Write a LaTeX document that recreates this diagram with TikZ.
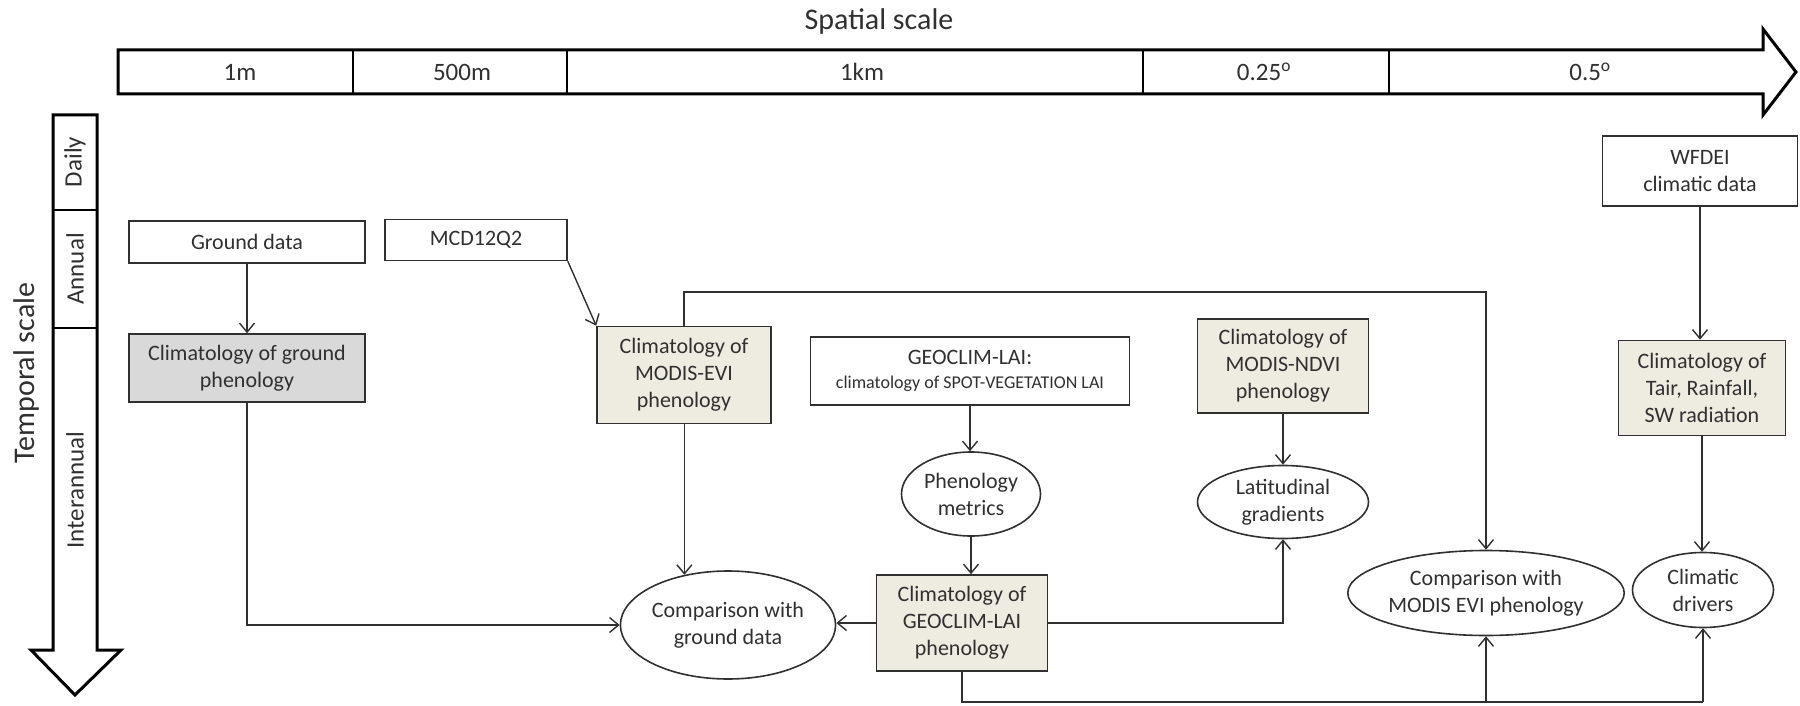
\documentclass[tikz,border=0pt]{standalone}
\usepackage{fontspec}
\setmainfont{Carlito}
\usetikzlibrary{arrows.meta,shapes.geometric}
\definecolor{beige}{HTML}{EEECE1}
\definecolor{greyfill}{HTML}{D9D9D9}
\definecolor{ink}{HTML}{303030}

\tikzset{
  txt/.style={font=\fontsize{22}{27}\selectfont, text=ink, align=center},
  databox/.style={txt, draw=ink, line width=1.6pt, fill=white, rectangle, inner sep=0pt},
  climbox/.style={databox, fill=beige},
  groundbox/.style={databox, fill=greyfill},
  result/.style={txt, draw=ink, line width=1.6pt, fill=white, ellipse, inner sep=0pt},
  conn/.style={draw=ink, line width=1.4pt},
  arr/.style={conn, -{Straight Barb[length=9pt,width=15pt,line width=1.4pt]}},
  scalebar/.style={draw=black, line width=3pt, line join=miter, fill=white},
  scalelab/.style={font=\fontsize{25}{30}\selectfont, text=ink, inner sep=0pt},
  axistitle/.style={font=\fontsize{30}{36}\selectfont, text=ink, inner sep=0pt},
}

\begin{document}
\begin{tikzpicture}[x=1pt,y=-1pt]
\useasboundingbox (0,0) rectangle (1800,706);

% ---- spatial scale arrow ----
\node[axistitle] (spatial) at (879,22) {Spatial scale};
\draw[scalebar] (118,50) -- (1763,50) -- (1763,29) -- (1796,72) -- (1763,115)
  -- (1763,94) -- (118,94) -- cycle;
\foreach \xd in {353,567,1143,1389}
  \draw[black, line width=1.6pt] (\xd,50) -- (\xd,94);
\node[scalelab] (s1) at (240,72) {1m};
\node[scalelab] (s2) at (462,72) {500m};
\node[scalelab] (s3) at (862,72) {1km};
\node[scalelab] (s4) at (1264,72) {0.25\textsuperscript{o}};
\node[scalelab] (s5) at (1590,72) {0.5\textsuperscript{o}};

% ---- temporal scale arrow ----
\node[axistitle, rotate=90] (temporal) at (27,373) {Temporal scale};
\draw[scalebar] (53,115) -- (97,115) -- (97,650) -- (121,650) -- (75,695)
  -- (31,650) -- (53,650) -- cycle;
\foreach \yd in {210,328}
  \draw[black, line width=1.6pt] (53,\yd) -- (97,\yd);
\node[scalelab, rotate=90] (t1) at (75,162) {Daily};
\node[scalelab, rotate=90] (t2) at (75,269) {Annual};
\node[scalelab, rotate=90] (t3) at (75,490) {Interannual};

% ---- input data ----
\node[databox, minimum width=236pt, minimum height=42pt] (ground) at (247,242) {Ground data};
\node[databox, minimum width=182pt, minimum height=41pt] (mcd) at (476,240) {MCD12Q2};
\node[databox, minimum width=195pt, minimum height=70pt] (wfdei) at (1700,171) {WFDEI\\climatic data};
\node[databox, minimum width=319pt, minimum height=68pt] (geoclim) at (970,371)
  {GEOCLIM-LAI:\\[-3pt]{\fontsize{18}{22}\selectfont climatology of SPOT-VEGETATION LAI}};

% ---- climatologies ----
\node[groundbox, minimum width=236pt, minimum height=68pt] (climground) at (247,368)
  {Climatology of ground\\phenology};
\node[climbox, minimum width=174pt, minimum height=97pt] (modisevi) at (684,375)
  {Climatology of\\MODIS-EVI\\phenology};
\node[climbox, minimum width=171pt, minimum height=94pt] (ndvi) at (1283,366)
  {Climatology of\\MODIS-NDVI\\phenology};
\node[climbox, minimum width=167pt, minimum height=95pt] (tair) at (1702,388)
  {Climatology of\\Tair, Rainfall,\\SW radiation};
\node[climbox, minimum width=171pt, minimum height=96pt] (geoclimphen) at (962,623)
  {Climatology of\\GEOCLIM-LAI\\phenology};

% ---- analyses ----
\node[result, minimum width=139pt, minimum height=84pt] (metrics) at (971,494) {Phenology\\metrics};
\node[result, minimum width=171pt, minimum height=73pt] (latgrad) at (1283,502) {Latitudinal\\gradients};
\node[result, minimum width=182pt, minimum height=108pt] (compground) at (728,625) {Comparison with\\ground data};
\node[result, minimum width=237pt, minimum height=85pt] (compmodis) at (1486,593) {Comparison with\\MODIS EVI phenology};
\node[result, minimum width=141pt, minimum height=75pt] (drivers) at (1703,590) {Climatic\\drivers};

% ---- connectors ----
\coordinate (looptop) at (0,292);
\coordinate (busy) at (0,702);

\draw[arr] (ground) -- (climground);
\draw[arr] (mcd.south east) -- (modisevi.north west);
\draw[arr] (modisevi.north) -- (modisevi.north |- looptop) -| (compmodis.north);
\draw[arr] (compground.131 |- modisevi.south) -- (compground.131);
\draw[arr] (climground.south) |- (compground.west);
\draw[arr] (geoclim.south) -- (geoclim.south |- metrics.north);
\draw[arr] (metrics.south) -- (metrics.south |- geoclimphen.north);
\draw[arr] (ndvi) -- (latgrad);
\draw[arr] (geoclimphen.east) -| (latgrad.south);
\draw[arr] (geoclimphen.west) -- (geoclimphen.west -| compground.east);
\draw[arr] (wfdei.south) -- (wfdei.south |- tair.north);
\draw[arr] (tair.south) -- (tair.south |- drivers.north);
\draw[conn] (geoclimphen.south) -- (geoclimphen.south |- busy) -- (drivers.south |- busy);
\draw[arr] (compmodis.south |- busy) -- (compmodis.south);
\draw[arr] (drivers.south |- busy) -- (drivers.south);
\end{tikzpicture}
\end{document}
